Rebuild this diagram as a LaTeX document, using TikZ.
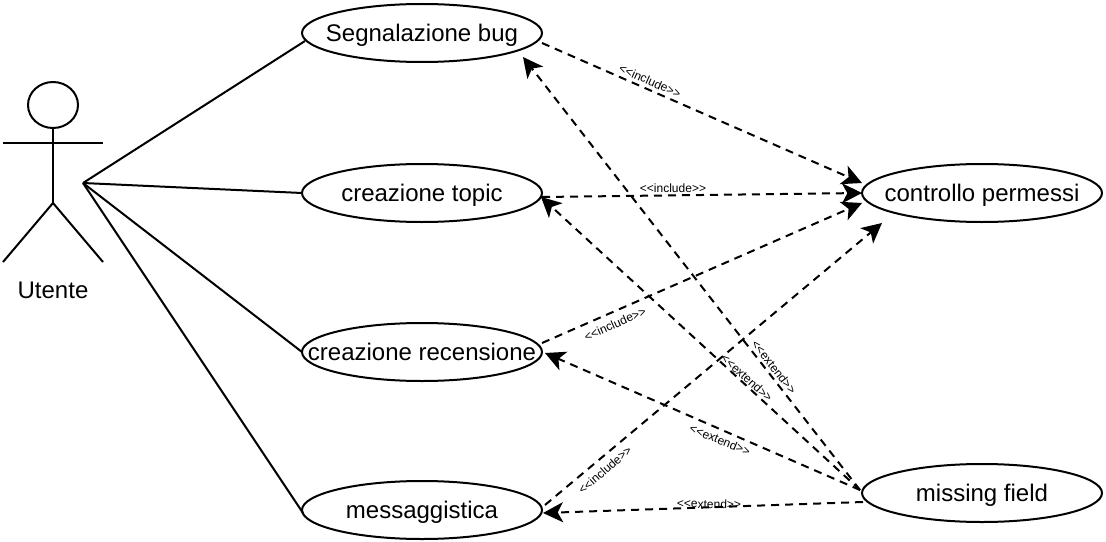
\documentclass[tikz,border=0pt]{standalone}
\usepackage{fontspec}
\setmainfont{Liberation Sans}
\usetikzlibrary{arrows.meta}
\usetikzlibrary{shapes.geometric}

\newcommand{\incl}{<{}<include>{}>}
\newcommand{\extd}{<{}<extend>{}>}

\tikzset{
	usecase/.style={ draw, ellipse, line width=1.5pt, minimum width=180pt, minimum height=43.5pt, inner sep=0pt, outer sep=0pt, text height=18.4pt, text depth=6pt, font=\fontsize{18}{20}\selectfont },
	stick/.style={ line width=1.5pt },
	dep/.style={ line width=1.5pt, dash pattern=on 6pt off 4.5pt, -{Stealth[length=15pt, width=15pt, inset=4pt]} },
	tag/.style={ inner sep=0pt, font=\fontsize{9}{10}\selectfont }
}

\begin{document}
\begin{tikzpicture}[ x=0.75pt, y=-0.75pt ]

	\useasboundingbox (0, 0) rectangle (1106, 542);

	\def\armsy{143}
	\def\hipy{203}
	\def\feety{262}

	\node[ usecase ] (bug) at (422, 33) {\clap{Segnalazione bug}};
	\node[ usecase ] (topic) at (422, 193) {\clap{creazione topic}};
	\node[ usecase ] (recensione) at (422, 352) {\clap{creazione recensione}};
	\node[ usecase ] (chat) at (422, 510) {\clap{messaggistica}};
	\node[ usecase ] (permessi) at (982, 193) {\clap{controllo permessi}};
	\node[ usecase ] (missing) at (982, 493) {\clap{missing field}};

	\draw[ stick ] (53, 105) ellipse (25 and 23);
	\draw[ stick ] (53, 128) -- (53, \hipy);
	\draw[ stick ] (3, \armsy) -- (103, \armsy);
	\draw[ stick ] (3, \feety) -- (53, \hipy) -- (103, \feety);
	\node[ font=\fontsize{18}{20}\selectfont ] (utente) at (53, 290) {Utente};

	\coordinate (actor) at (83, 183);
	\draw[ stick ] (actor) -- ([shift={(3,8)}]bug.west);
	\draw[ stick ] (actor) -- (topic.west);
	\draw[ stick ] (actor) -- (recensione.west);
	\draw[ stick ] (actor) -- ([shift={(1,3)}]chat.west);

	\draw[ dep ] ([yshift=-7.5pt]bug.east) -- ([yshift=7.5pt]permessi.west);
	\draw[ dep ] ([yshift=-3pt]topic.east) -- (permessi.west);
	\draw[ dep ] ([yshift=6.75pt]recensione.east) -- ([yshift=-7.5pt]permessi.west);
	\draw[ dep ] ([shift={(3,-5)}]chat.east) -- ([shift={(20,30)}]permessi.west);

	\draw[ dep ] ([shift={(-2,-3)}]missing.west) -- ([shift={(-19,24)}]bug.east);
	\draw[ dep ] ([shift={(-2,-3)}]missing.west) -- ([shift={(-1,4)}]topic.east);
	\draw[ dep ] ([shift={(-2,-3)}]missing.west) -- ([shift={(3,1)}]recensione.east);
	\draw[ dep ] ([shift={(1,9)}]missing.west) -- ([shift={(1,3)}]chat.east);

	\node[ tag, rotate=-24 ] (inclbug) at (650, 81) {\incl};
	\node[ tag ] (incltopic) at (673, 188) {\incl};
	\node[ tag, rotate=24 ] (inclrec) at (615, 324) {\incl};
	\node[ tag, rotate=41 ] (inclchat) at (605, 470) {\incl};

	\node[ tag, rotate=-52 ] (extbug) at (774, 367) {\extd};
	\node[ tag, rotate=-42 ] (exttopic) at (747, 378) {\extd};
	\node[ tag, rotate=-22 ] (extrec) at (720, 440) {\extd};
	\node[ tag, rotate=-1 ] (extchat) at (709, 504) {\extd};

\end{tikzpicture}
\end{document}
